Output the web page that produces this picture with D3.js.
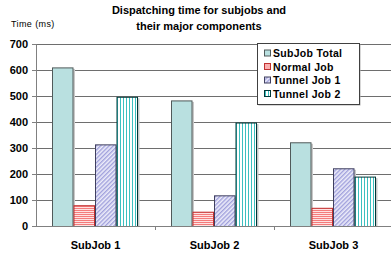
<!DOCTYPE html>
<html lang="en">
<head>
<meta charset="utf-8">
<title>Dispatching time</title>
<script src="https://cdn.jsdelivr.net/npm/d3@7"></script>
<style>
  body { margin: 0; padding: 0; background: #fff; font-family: Arial, "Liberation Sans", sans-serif; }
  .tick text { font-weight: bold; font-size: 11px; fill: #000; }
</style>
</head>
<body>
<svg id="chart" width="391" height="257"></svg>
<script>
var categories = ["SubJob 1", "SubJob 2", "SubJob 3"];
var seriesNames = ["SubJob Total", "Normal Job", "Tunnel Job 1", "Tunnel Job 2"];
var subjobTotal = [610, 483, 322];
var normalJob = [80, 55, 70];
var tunnelJob1 = [314, 118, 222];
var tunnelJob2 = [497, 398, 190];
var yTicks = [0, 100, 200, 300, 400, 500, 600, 700];

var values = [subjobTotal, normalJob, tunnelJob1, tunnelJob2];

var svg = d3.select("#chart");
var margin = { top: 44, right: -2, bottom: 31, left: 36 };
var width = 391 - margin.left - margin.right;
var height = 257 - margin.top - margin.bottom;

// fill patterns
var defs = svg.append("defs");
var p1 = defs.append("pattern").attr("id", "pNormal").attr("patternUnits", "userSpaceOnUse")
  .attr("width", 4).attr("height", 2);
p1.append("rect").attr("width", 4).attr("height", 2).attr("fill", "#ffe2e2");
p1.append("rect").attr("width", 4).attr("height", 1).attr("fill", "#f47c7c");

var p2 = defs.append("pattern").attr("id", "pTunnel1").attr("patternUnits", "userSpaceOnUse")
  .attr("width", 3).attr("height", 3).attr("patternTransform", "rotate(45)");
p2.append("rect").attr("width", 3).attr("height", 3).attr("fill", "#eeeefa");
p2.append("rect").attr("width", 1.4).attr("height", 3).attr("fill", "#a0a0dc");

var p3 = defs.append("pattern").attr("id", "pTunnel2").attr("patternUnits", "userSpaceOnUse")
  .attr("width", 3).attr("height", 4);
p3.append("rect").attr("width", 3).attr("height", 4).attr("fill", "#ffffff");
p3.append("rect").attr("width", 1).attr("height", 4).attr("fill", "#3cc0c0");

var fills = ["#b9e0e0", "url(#pNormal)", "url(#pTunnel1)", "url(#pTunnel2)"];
var strokes = ["#505a5a", "#c03030", "#404060", "#003838"];

var g = svg.append("g").attr("transform", "translate(" + margin.left + "," + margin.top + ")");

var x0 = d3.scaleBand().domain(categories).range([0, width]).paddingInner(0).paddingOuter(0);
var x1 = d3.scaleBand().domain(seriesNames).range([16, x0.bandwidth() - 17]).padding(0);
var y = d3.scaleLinear().domain([0, 700]).range([height, 0]);

// gridlines
g.append("g").selectAll("line").data(yTicks.slice(1)).enter().append("line")
  .attr("x1", 0).attr("x2", width).attr("y1", y).attr("y2", y)
  .attr("stroke", "#6e6e6e").attr("stroke-width", 1).attr("shape-rendering", "crispEdges");

// bars
var groups = g.selectAll(".grp").data(categories).enter().append("g")
  .attr("transform", function (d) { return "translate(" + x0(d) + ",0)"; });

groups.selectAll("rect.shadow").data(function (d, i) {
    return seriesNames.map(function (s, j) { return { s: s, j: j, v: values[j][i] }; });
  }).enter().append("rect")
  .attr("x", function (d) { return x1(d.s) + 1.5; })
  .attr("y", function (d) { return y(d.v) + 1.5; })
  .attr("width", x1.bandwidth())
  .attr("height", function (d) { return height - y(d.v) - 1.5; })
  .attr("fill", "#c8c8c8");

groups.selectAll("rect.bar").data(function (d, i) {
    return seriesNames.map(function (s, j) { return { s: s, j: j, v: values[j][i] }; });
  }).enter().append("rect")
  .attr("x", function (d) { return x1(d.s) + 0.5; })
  .attr("y", function (d) { return y(d.v) + 0.5; })
  .attr("width", x1.bandwidth() - 1)
  .attr("height", function (d) { return height - y(d.v); })
  .attr("fill", function (d) { return fills[d.j]; })
  .attr("stroke", function (d) { return strokes[d.j]; })
  .attr("stroke-width", 1);

// axes
var yAxis = g.append("g").call(d3.axisLeft(y).tickValues(yTicks).tickSize(4).tickPadding(4));
yAxis.select(".domain").attr("stroke", "#808080");
yAxis.selectAll(".tick line").attr("stroke", "#808080");

var xAxis = g.append("g").attr("transform", "translate(0," + height + ")")
  .call(d3.axisBottom(x0).tickSize(0).tickPadding(15));
xAxis.select(".domain").attr("stroke", "#808080").attr("d", "M0,0.5H" + width);
xAxis.selectAll(".tick text").style("font-size", "11px");
// separator ticks between categories
xAxis.append("g").selectAll("line").data(categories.slice(1)).enter().append("line")
  .attr("x1", function (d) { return x0(d) + 0.5; }).attr("x2", function (d) { return x0(d) + 0.5; })
  .attr("y1", 0).attr("y2", 4).attr("stroke", "#808080");

// title
var title = svg.append("text").attr("x", 199).attr("y", 14)
  .attr("text-anchor", "middle").style("font-size", "11px").style("font-weight", "bold");
title.append("tspan").attr("x", 199).attr("dy", 0).text("Dispatching time for subjobs and");
title.append("tspan").attr("x", 199).attr("dy", 16).text("their major components");

svg.append("text").attr("x", 11).attr("y", 27).style("font-size", "9px").style("letter-spacing", "0.4px")
  .text("Time (ms)");

// legend
var lg = svg.append("g").attr("transform", "translate(257,43)");
lg.append("rect").attr("x", 1.5).attr("y", 1.5).attr("width", 102).attr("height", 61).attr("fill", "#b0b0b0");
lg.append("rect").attr("x", 0.5).attr("y", 0.5).attr("width", 102).attr("height", 61)
  .attr("fill", "#fff").attr("stroke", "#404040");
var items = lg.selectAll(".item").data(seriesNames).enter().append("g")
  .attr("transform", function (d, i) { return "translate(11," + (10 + i * 13.5) + ")"; });
items.append("rect").attr("x", -3.5).attr("y", -3).attr("width", 6).attr("height", 6)
  .attr("fill", function (d, i) { return fills[i]; })
  .attr("stroke", function (d, i) { return strokes[i]; });
items.append("text").attr("x", 5).attr("y", 4).style("font-size", "10.5px").style("font-weight", "bold")
  .style("letter-spacing", "0.3px").text(function (d) { return d; });
</script>
</body>
</html>
